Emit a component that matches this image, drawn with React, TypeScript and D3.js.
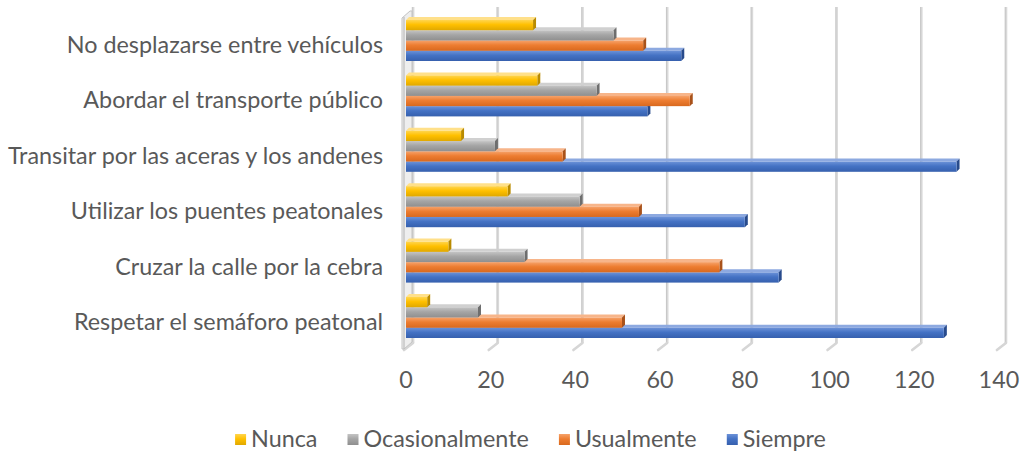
import React, { useEffect, useRef } from "react";
import * as d3 from "d3";

const categories = [
  "No desplazarse entre vehículos",
  "Abordar el transporte público",
  "Transitar por las aceras y los andenes",
  "Utilizar los puentes peatonales",
  "Cruzar la calle por la cebra",
  "Respetar el semáforo peatonal",
];
const seriesNames = ["Nunca", "Ocasionalmente", "Usualmente", "Siempre"];
const nunca = [30, 31, 13, 24, 10, 5];
const ocasionalmente = [49, 45, 21, 41, 28, 17];
const usualmente = [56, 67, 37, 55, 74, 51];
const siempre = [65, 57, 130, 80, 88, 127];
const xTicks = [0, 20, 40, 60, 80, 100, 120, 140];

const seriesValues = [nunca, ocasionalmente, usualmente, siempre];
const palette = [
  { light: "#FFD54F", base: "#FFC000", dark: "#E0A800", side: "#B98B00", top: "#FFE08A" },
  { light: "#C4C4C4", base: "#A5A5A5", dark: "#8F8F8F", side: "#6E6E6E", top: "#D0D0D0" },
  { light: "#F6A26A", base: "#ED7D31", dark: "#D9691E", side: "#A9521A", top: "#F7B58A" },
  { light: "#6C92D8", base: "#4472C4", dark: "#3660AE", side: "#284B8C", top: "#8DA9E0" },
];

const FONT = "Lato, 'Open Sans', sans-serif";
const TEXT = "#595959";
const SX = 1.015;

export default function App() {
  const ref = useRef<SVGSVGElement>(null);

  useEffect(() => {
    const svg = d3.select(ref.current);
    svg.selectAll("*").remove();

    const defs = svg.append("defs");
    palette.forEach((p, i) => {
      const g = defs
        .append("linearGradient")
        .attr("id", `grad${i}`)
        .attr("x1", 0)
        .attr("y1", 0)
        .attr("x2", 0)
        .attr("y2", 1);
      g.append("stop").attr("offset", "0%").attr("stop-color", p.light);
      g.append("stop").attr("offset", "45%").attr("stop-color", p.base);
      g.append("stop").attr("offset", "100%").attr("stop-color", p.dark);
    });

    const x = d3.scaleLinear().domain([0, 140]).range([406, 998.9]);
    const depthX = 7;
    const gridTop = 7;
    const gridBottom = 343;

    const y = d3
      .scaleBand<string>()
      .domain(categories)
      .range([12.8, 345.2])
      .paddingInner(0.26)
      .paddingOuter(0.13);
    const ys = d3
      .scaleBand<string>()
      .domain(seriesNames)
      .range([0, y.bandwidth()]);

    // gridlines (back wall)
    const grid = svg.append("g");
    xTicks.forEach((t) => {
      const xb = x(t) + depthX;
      grid
        .append("rect")
        .attr("x", xb - 1.2)
        .attr("y", gridTop)
        .attr("width", 2.6)
        .attr("height", gridBottom - gridTop)
        .attr("fill", "#d9d9d9");
      grid
        .append("line")
        .attr("x1", xb - 0.6)
        .attr("x2", xb - 0.6)
        .attr("y1", gridTop)
        .attr("y2", gridBottom)
        .attr("stroke", "#c4c4c4")
        .attr("stroke-width", 0.8);
      grid
        .append("line")
        .attr("x1", xb)
        .attr("y1", gridBottom)
        .attr("x2", xb - 9)
        .attr("y2", gridBottom + 7)
        .attr("stroke", "#d6d6d6")
        .attr("stroke-width", 2.6)
        .attr("stroke-linecap", "round");
    });

    // left wall
    svg
      .append("polygon")
      .attr("points", "402,18 410,11 412,11 412,342 404,349 402,349")
      .attr("fill", "#eeeeee")
      .attr("stroke", "#c3c3c3")
      .attr("stroke-width", 1);
    svg
      .append("line")
      .attr("x1", 404)
      .attr("x2", 404)
      .attr("y1", 17)
      .attr("y2", 349)
      .attr("stroke", "#bdbdbd")
      .attr("stroke-width", 1.2);

    // bars
    const d = 3;
    const bars = svg.append("g");
    categories.forEach((cat, ci) => {
      for (let si = seriesNames.length - 1; si >= 0; si--) {
        const v = seriesValues[si][ci];
        const p = palette[si];
        const y0 = (y(cat) ?? 0) + (ys(seriesNames[si]) ?? 0);
        const h = ys.bandwidth();
        const x0 = x(0);
        const xe = x(v);
        bars
          .append("polygon")
          .attr("points", `${x0},${y0} ${x0 + d},${y0 - d} ${xe + d},${y0 - d} ${xe},${y0}`)
          .attr("fill", p.top);
        bars
          .append("polygon")
          .attr("points", `${xe},${y0} ${xe + d},${y0 - d} ${xe + d},${y0 + h - d} ${xe},${y0 + h}`)
          .attr("fill", p.side);
        bars
          .append("rect")
          .attr("x", x0)
          .attr("y", y0)
          .attr("width", xe - x0)
          .attr("height", h)
          .attr("fill", `url(#grad${si})`);
      }
    });

    // category labels
    categories.forEach((cat) => {
      const cy = (y(cat) ?? 0) + y.bandwidth() / 2 + 12.5;
      svg
        .append("text")
        .attr("transform", `translate(383,${cy}) scale(${SX},1)`)
        .attr("text-anchor", "end")
        .attr("font-family", FONT)
        .attr("font-size", 23)
        .attr("fill", TEXT)
        .text(cat);
    });

    // tick labels
    xTicks.forEach((t) => {
      svg
        .append("text")
        .attr("transform", `translate(${x(t)},388) scale(${SX},1)`)
        .attr("text-anchor", "middle")
        .attr("font-family", FONT)
        .attr("font-size", 23)
        .attr("fill", TEXT)
        .text(String(t));
    });

    // legend
    const legend = svg.append("g");
    const items: { w: number; node: any; sq: any }[] = [];
    seriesNames.forEach((name, i) => {
      const sq = legend
        .append("rect")
        .attr("width", 11)
        .attr("height", 11)
        .attr("fill", `url(#grad${i})`);
      const node = legend
        .append("text")
        .attr("font-family", FONT)
        .attr("font-size", 23)
        .attr("fill", TEXT)
        .text(name);
      const w = (node.node() as SVGTextElement).getComputedTextLength() * SX;
      items.push({ w, node, sq });
    });
    const sqW = 11;
    const gap1 = 5;
    const gap2 = 30;
    const total =
      items.reduce((a, it) => a + sqW + gap1 + it.w, 0) + gap2 * (items.length - 1);
    let cx = 530.5 - total / 2;
    items.forEach((it) => {
      it.sq.attr("x", cx).attr("y", 434);
      it.node.attr("transform", `translate(${cx + sqW + gap1},447) scale(${SX},1)`);
      cx += sqW + gap1 + it.w + gap2;
    });
  }, []);

  return (
    <svg
      ref={ref}
      width={1023}
      height={454}
      style={{ position: "absolute", left: 0, top: 0, background: "#fff" }}
    />
  );
}
